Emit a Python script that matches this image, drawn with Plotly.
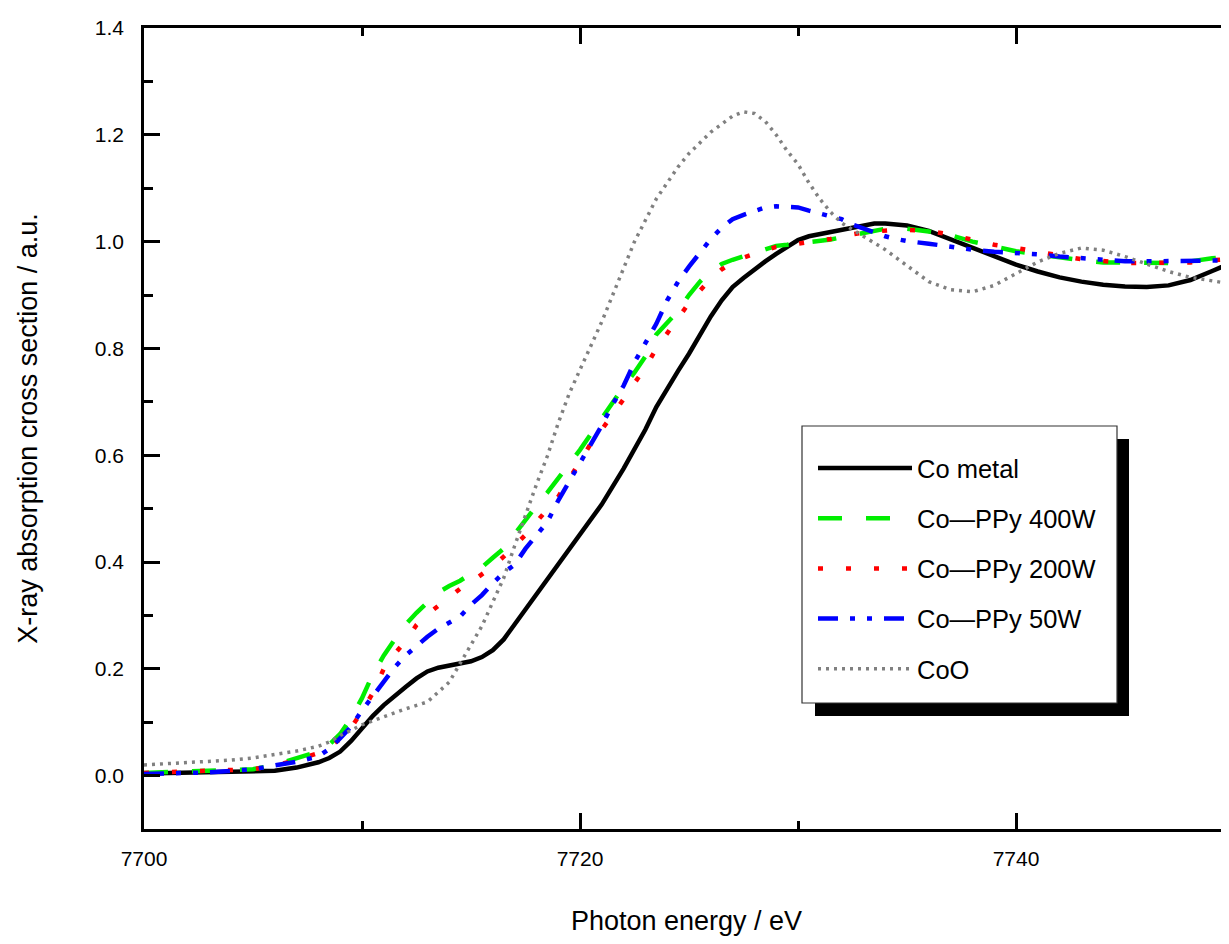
import plotly.graph_objects as go

# ---------------- data ----------------
E_metal = [7700, 7702, 7704, 7705, 7706, 7707, 7708, 7708.5, 7709, 7709.5, 7710, 7710.5,
           7711, 7711.5, 7712, 7712.5, 7713, 7713.5, 7714, 7714.5, 7715, 7715.5, 7716, 7716.5,
           7717, 7717.5, 7718, 7718.5, 7719, 7720, 7721, 7722, 7723, 7723.5, 7724, 7724.5,
           7725, 7725.5, 7726, 7726.5, 7727, 7727.5, 7728, 7728.5, 7729, 7729.5, 7730, 7730.5,
           7731, 7731.5, 7732, 7732.5, 7733, 7733.5, 7734, 7734.5, 7735, 7736, 7737, 7738,
           7739, 7740, 7741, 7742, 7743, 7744, 7745, 7746, 7747, 7748, 7749, 7750]
co_metal = [0.004, 0.005, 0.006, 0.007, 0.009, 0.015, 0.025, 0.033, 0.045, 0.065, 0.090, 0.112,
            0.132, 0.150, 0.166, 0.182, 0.195, 0.202, 0.206, 0.209, 0.214, 0.222, 0.235, 0.255,
            0.283, 0.310, 0.340, 0.368, 0.395, 0.449, 0.508, 0.575, 0.648, 0.690, 0.725, 0.758,
            0.790, 0.825, 0.860, 0.890, 0.915, 0.932, 0.948, 0.963, 0.977, 0.990, 1.003, 1.010,
            1.014, 1.017, 1.021, 1.026, 1.031, 1.034, 1.034, 1.033, 1.030, 1.020, 1.004, 0.990,
            0.973, 0.957, 0.944, 0.933, 0.925, 0.919, 0.916, 0.915, 0.918, 0.928, 0.945, 0.962]

E_ppy = [7700, 7703, 7705, 7706, 7707, 7708, 7708.5, 7709, 7709.5, 7710, 7710.5, 7711, 7711.5,
         7712, 7712.5, 7713, 7713.5, 7714, 7714.5, 7715, 7715.5, 7716, 7716.5, 7717, 7717.5,
         7718, 7718.5, 7719, 7719.5, 7720, 7720.5, 7721, 7721.5, 7722, 7722.5, 7723, 7723.5,
         7724, 7724.5, 7725, 7725.5, 7726, 7726.5, 7727, 7727.5, 7728, 7728.5, 7729, 7729.5,
         7730, 7730.5, 7731, 7731.5, 7732, 7732.5, 7733, 7733.5, 7734, 7734.5, 7735, 7736,
         7737, 7738, 7739, 7740, 7741, 7742, 7743, 7744, 7745, 7746, 7747, 7748, 7749, 7750]
ppy_400w = [0.005, 0.008, 0.012, 0.020, 0.033, 0.045, 0.058, 0.078, 0.108, 0.145, 0.190, 0.225,
            0.255, 0.283, 0.305, 0.325, 0.343, 0.355, 0.365, 0.378, 0.390, 0.408, 0.425, 0.452,
            0.480, 0.505, 0.530, 0.555, 0.583, 0.610, 0.640, 0.670, 0.698, 0.728, 0.755, 0.785,
            0.826, 0.848, 0.870, 0.900, 0.925, 0.945, 0.958, 0.966, 0.973, 0.980, 0.986, 0.992,
            0.994, 0.996, 0.998, 1.000, 1.004, 1.008, 1.012, 1.016, 1.020, 1.024, 1.025, 1.024,
            1.019, 1.012, 1.000, 0.990, 0.982, 0.976, 0.970, 0.965, 0.961, 0.960, 0.960, 0.960,
            0.963, 0.969, 0.972]
ppy_200w = [0.005, 0.008, 0.012, 0.018, 0.030, 0.042, 0.055, 0.068, 0.090, 0.120, 0.155, 0.200,
            0.228, 0.252, 0.282, 0.302, 0.318, 0.333, 0.350, 0.362, 0.377, 0.392, 0.410, 0.430,
            0.451, 0.475, 0.497, 0.522, 0.555, 0.590, 0.622, 0.648, 0.675, 0.705, 0.735, 0.764,
            0.800, 0.828, 0.855, 0.885, 0.908, 0.930, 0.948, 0.961, 0.970, 0.978, 0.984, 0.990,
            0.993, 0.995, 0.998, 1.000, 1.005, 1.010, 1.014, 1.017, 1.019, 1.021, 1.022, 1.022,
            1.020, 1.013, 1.004, 0.994, 0.988, 0.980, 0.974, 0.967, 0.963, 0.960, 0.960, 0.960,
            0.961, 0.965, 0.968]
ppy_50w = [0.003, 0.006, 0.012, 0.018, 0.026, 0.036, 0.050, 0.070, 0.092, 0.122, 0.150, 0.178,
           0.203, 0.225, 0.243, 0.260, 0.275, 0.287, 0.298, 0.320, 0.338, 0.360, 0.380, 0.395,
           0.425, 0.450, 0.475, 0.515, 0.550, 0.582, 0.617, 0.656, 0.695, 0.730, 0.774, 0.810,
           0.846, 0.890, 0.925, 0.953, 0.978, 1.005, 1.026, 1.042, 1.050, 1.058, 1.064, 1.066,
           1.066, 1.064, 1.058, 1.053, 1.049, 1.042, 1.032, 1.024, 1.016, 1.010, 1.005, 1.001,
           0.996, 0.990, 0.985, 0.981, 0.979, 0.976, 0.972, 0.969, 0.965, 0.963, 0.963, 0.963,
           0.963, 0.963, 0.965]

E_coo = [7700, 7702, 7704, 7705, 7706, 7707, 7708, 7708.5, 7709, 7710, 7711, 7712, 7713, 7714,
         7714.5, 7715, 7715.5, 7716, 7716.5, 7717, 7717.5, 7718, 7718.5, 7719, 7719.5, 7720,
         7720.5, 7721, 7721.5, 7722, 7722.5, 7723, 7723.5, 7724, 7724.5, 7725, 7725.5, 7726,
         7726.5, 7727, 7727.5, 7728, 7728.5, 7729, 7729.5, 7730, 7730.5, 7731, 7731.5, 7732,
         7733, 7734, 7735, 7736, 7737, 7738, 7739, 7740, 7741, 7742, 7743, 7744, 7745, 7746,
         7747, 7748, 7749, 7750]
coo = [0.020, 0.024, 0.029, 0.033, 0.039, 0.046, 0.055, 0.063, 0.075, 0.095, 0.110, 0.125,
       0.138, 0.175, 0.210, 0.245, 0.280, 0.325, 0.370, 0.430, 0.490, 0.545, 0.598, 0.660,
       0.715, 0.760, 0.805, 0.850, 0.900, 0.950, 1.000, 1.040, 1.080, 1.110, 1.140, 1.165,
       1.185, 1.205, 1.220, 1.235, 1.243, 1.240, 1.225, 1.200, 1.170, 1.145, 1.110, 1.080,
       1.055, 1.035, 1.010, 0.985, 0.955, 0.925, 0.910, 0.906, 0.918, 0.940, 0.962, 0.978,
       0.988, 0.984, 0.972, 0.958, 0.944, 0.933, 0.926, 0.920]

series = [
    ("Co metal", E_metal, co_metal, "#000000", 4.5, "solid"),
    ("Co\u2014PPy 400W", E_ppy, ppy_400w, "#00ee00", 4.5, "24px,24px"),
    ("Co\u2014PPy 200W", E_ppy, ppy_200w, "#ff0000", 4.5, "5px,23px"),
    ("Co\u2014PPy 50W", E_ppy, ppy_50w, "#0000ff", 4.5, "20px,12px,5px,12px,5px,12px"),
    ("CoO", E_coo, coo, "#808080", 3.5, "3px,5px"),
]

FONT = "Liberation Sans"

fig = go.Figure()
for i, (name, xs, ys, col, w, dash) in enumerate(series):
    fig.add_trace(go.Scatter(x=xs, y=ys, mode="lines", name=name, legendgroup=f"g{i}",
                             line=dict(color=col, width=w, dash=dash)))

# page body has an 8px margin: the figure is placed at (8, 8) in the window;
# keep the page from overflowing (no scrollbars)
OFF = 8
W, H = 1229 - OFF, 944 - 2 * OFF
ml, mr, mt = 144 - OFF, 0, 28 - OFF
mb = (OFF + H) - 829
pw = W - ml - mr
ph = H - mt - mb


def px2paper_x(p):
    return (p - OFF - ml) / pw


def px2paper_y(p):
    return (OFF + H - mb - p) / ph


# legend frame with drop shadow
fig.add_shape(type="rect", xref="paper", yref="paper", layer="above",
              x0=px2paper_x(815), x1=px2paper_x(1129), y0=px2paper_y(716), y1=px2paper_y(439),
              fillcolor="black", line=dict(width=0))
fig.add_shape(type="rect", xref="paper", yref="paper", layer="above",
              x0=px2paper_x(802), x1=px2paper_x(1117), y0=px2paper_y(703), y1=px2paper_y(426),
              fillcolor="white", line=dict(color="#333333", width=1.2))

axis_common = dict(showline=True, linecolor="black", linewidth=2.5, ticks="inside",
                   tickcolor="black", tickwidth=2.5, ticklen=16, showgrid=False, zeroline=False,
                   automargin=False, tickfont=dict(family=FONT, size=21, color="black"))

fig.update_layout(
    width=W, height=H,
    margin=dict(l=ml, r=mr, t=mt, b=mb, pad=0, autoexpand=False),
    plot_bgcolor="white", paper_bgcolor="white",
    font=dict(family=FONT, color="black"),
    xaxis=dict(**axis_common, range=[7700, 7700 + pw / 21.8], tick0=7700, dtick=20,
               mirror="ticks", ticklabelstandoff=9,
               minor=dict(ticks="inside", ticklen=8, tickwidth=2.5, tickcolor="black", dtick=10),
               title=dict(text="Photon energy / eV", font=dict(family=FONT, size=27), standoff=54)),
    yaxis=dict(**axis_common, range=[-0.1, 1.4], tick0=0, dtick=0.2, tickformat=".1f",
               mirror=False, ticklabelstandoff=13,
               minor=dict(ticks="inside", ticklen=9, tickwidth=2.5, tickcolor="black", dtick=0.1),
               title=dict(text="X-ray absorption cross section / a.u.",
                          font=dict(family=FONT, size=27), standoff=50)),
    yaxis2=dict(overlaying="y", side="right", anchor="x", range=[-0.1, 1.4], showline=False,
                ticks="inside", tickcolor="black", tickwidth=2.5, ticklen=16, tick0=0, dtick=0.2,
                showticklabels=False, showgrid=False, zeroline=False, automargin=False,
                minor=dict(ticks="inside", ticklen=9, tickwidth=2.5, tickcolor="black", dtick=0.1)),
    showlegend=True,
    legend=dict(x=px2paper_x(813), y=px2paper_y(445), xanchor="left", yanchor="top",
                bgcolor="rgba(0,0,0,0)", borderwidth=0, itemwidth=94, tracegroupgap=14,
                font=dict(family=FONT, size=25.5, color="black"), traceorder="grouped"),
)

fig.write_html("out.html")
